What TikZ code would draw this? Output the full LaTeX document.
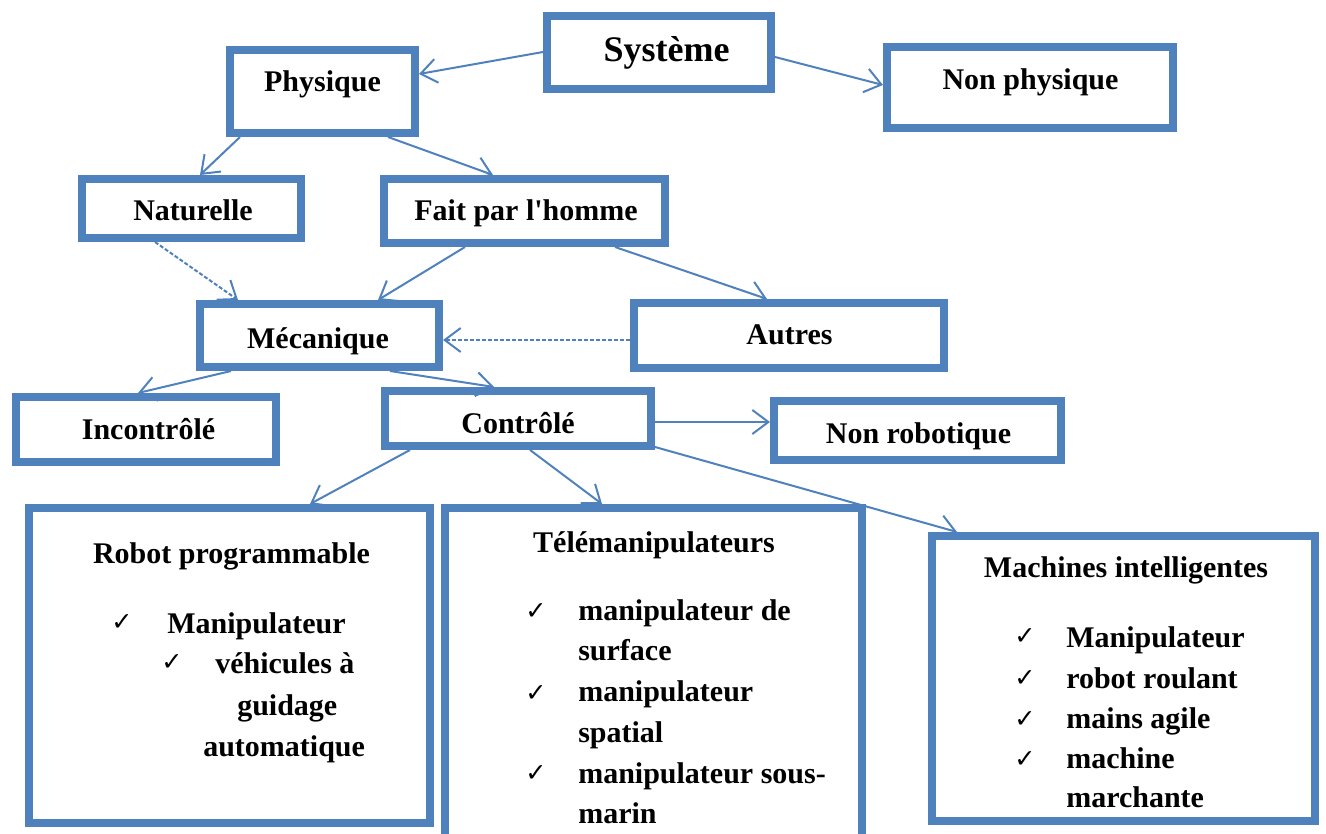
\documentclass[tikz,border=0pt]{standalone}
\usepackage{fontspec}
\setmainfont{Liberation Serif}
\newfontfamily\plainserif{Liberation Serif}
\newfontfamily\symfont{DejaVu Sans}
\usetikzlibrary{arrows.meta}
\definecolor{bblue}{HTML}{4F81BD}
\newcommand\mybox[5]{%
  \pgfmathsetmacro\bw{(#4-#2-8)*0.75}%
  \pgfmathsetmacro\bh{(#5-#3-8)*0.75}%
  \node[box, minimum width=\bw pt, minimum height=\bh pt] (#1) at ({(#2+#4)/2},{(#3+#5)/2}) {};}
\begin{document}
\begin{tikzpicture}[x=0.75pt, y=-0.75pt,
  font=\bfseries\fontsize{22.5}{27}\selectfont,
  box/.style={draw=bblue, line width=6pt, inner sep=0pt},
  txt/.style={anchor=base, inner sep=0pt},
  item/.style={anchor=base west, inner sep=0pt},
  chk/.style={anchor=base west, inner sep=0pt, font=\symfont\fontsize{19}{19}\selectfont},
  conn/.style={draw=bblue, line width=1.5pt, -{Straight Barb[length=12pt,width=18pt]}},
  dconn/.style={conn, dash pattern=on 3pt off 1.5pt}]
\useasboundingbox (0,0) rectangle (1326,834);
% boxes
\mybox{sys}{543}{12}{775}{93}
\mybox{phys}{226}{46}{419}{137}
\mybox{nonphys}{883}{43}{1177}{132}
\mybox{nat}{78}{175}{305}{242}
\mybox{fait}{380}{175}{669}{247}
\mybox{meca}{196}{300}{443}{371}
\mybox{autres}{630}{299}{948}{372}
\mybox{incon}{12}{393}{280}{466}
\mybox{contr}{381}{387}{655}{450}
\mybox{nonrob}{770}{397}{1065}{464}
\mybox{robot}{25}{504}{434}{827}
\mybox{tele}{441}{504}{866}{850}
\mybox{mach}{928}{532}{1319}{825}
% labels
\node[txt, font=\bfseries\fontsize{27}{32}\selectfont] (sysT) at (666.5,62) {Système};
\node[txt] (physT) at (322.5,92) {Physique};
\node[txt] (nonphysT) at (1030.5,90) {Non physique};
\node[txt] (natT) at (193,220) {Naturelle};
\node[txt] (faitT) at (526,221) {Fait par l{\plainserif\bfseries '}homme};
\node[txt] (mecaT) at (318,348) {Mécanique};
\node[txt] (autresT) at (789.5,344) {Autres};
\node[txt] (inconT) at (148.5,439) {Incontrôlé};
\node[txt] (contrT) at (518,433) {Contrôlé};
\node[txt] (nonrobT) at (918.5,443) {Non robotique};
% Robot programmable
\node[txt] (robotT) at (231.5,563) {Robot programmable};
\node[chk] (rc1) at (111,630) {✓};
\node[item] (ri1) at (167,633) {Manipulateur};
\node[chk] (rc2) at (161,670) {✓};
\node[item] (ri2) at (215,673) {véhicules à};
\node[item] (ri3) at (237,715) {guidage};
\node[item] (ri4) at (203,756) {automatique};
% Telemanipulateurs
\node[txt] (teleT) at (654,552) {Télémanipulateurs};
\node[chk] (tc1) at (525,619) {✓};
\node[item] (ti1) at (578,620) {manipulateur de};
\node[chk] (tc2) at (525,701) {✓};
\node[item] (ti2) at (578,660) {surface};
\node[item] (ti3) at (578,701) {manipulateur};
\node[item] (ti4) at (578,742) {spatial};
\node[chk] (tc3) at (525,781) {✓};
\node[item] (ti5) at (578,783) {manipulateur sous-};
\node[item] (ti6) at (578,823) {marin};
% Machines intelligentes
\node[txt] (machT) at (1126,577) {Machines intelligentes};
\node[chk] (mc1) at (1014,644) {✓};
\node[item] (mi1) at (1066,647) {Manipulateur};
\node[chk] (mc2) at (1014,686) {✓};
\node[item] (mi2) at (1066,688) {robot roulant};
\node[chk] (mc3) at (1014,727) {✓};
\node[item] (mi3) at (1066,728) {mains agile};
\node[chk] (mc4) at (1014,767) {✓};
\node[item] (mi4) at (1066,768) {machine};
\node[item] (mi5) at (1066,807) {marchante};
% connectors
\draw[conn] (sys.west |- 0,52) -- (phys.east |- 0,74);
\draw[conn] (sys.east |- 0,57) -- (nonphys.west |- 0,85);
\draw[conn] (phys.south -| 240,0) -- (nat.north -| 200,0);
\draw[conn] (phys.south -| 388,0) -- (fait.north -| 493,0);
\draw[dconn] (nat.south -| 155,0) -- (meca.north -| 238,0);
\draw[conn] (fait.south -| 465,0) -- (meca.north -| 378,0);
\draw[conn] (fait.south -| 615,0) -- (autres.north -| 767,0);
\draw[dconn] (autres.west |- 0,340) -- (meca.east |- 0,340);
\draw[conn] (meca.south -| 231,0) -- (incon.north -| 138,0);
\draw[conn] (meca.south -| 390,0) -- (contr.north -| 494,0);
\draw[conn] (contr.east |- 0,422) -- (nonrob.west |- 0,422);
\draw[conn] (contr.south -| 410,0) -- (robot.north -| 310,0);
\draw[conn] (contr.south -| 530,0) -- (tele.north -| 602,0);
\draw[conn] (contr.east |- 0,447) -- (mach.north -| 957,0);
\end{tikzpicture}
\end{document}
